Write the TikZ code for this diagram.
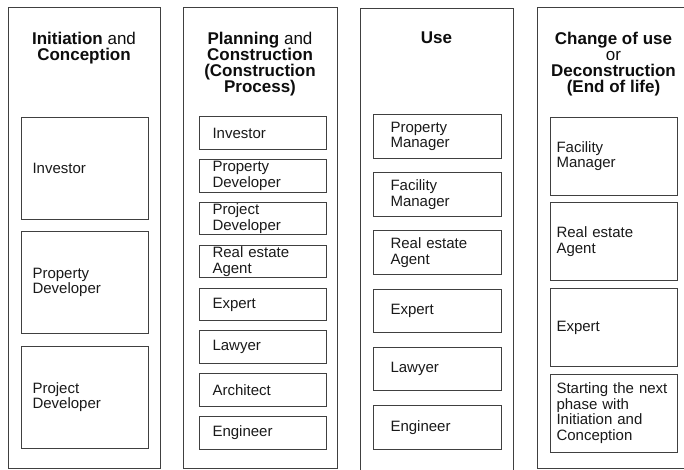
\documentclass[tikz,border=0pt]{standalone}
\usepackage{fontspec}
\setmainfont{Liberation Sans}

\begin{document}
\begin{tikzpicture}[x=1pt,y=-1pt,
		column/.style={draw=black!75,line width=1pt},
		heading/.style={anchor=north,align=center,inner sep=0pt,text=black!95,font=\fontsize{17pt}{16pt}\selectfont},
		role/.style={draw=black!75,line width=0.9pt,align=left,inner sep=0pt,minimum width=127pt,text width=#1,text=black!90,font=\fontsize{15pt}{15.5pt}\selectfont}]
		\useasboundingbox (0,0) rectangle (684,470);
		\clip (0,0) rectangle (684,470);

		\draw[column] (8,8) rectangle (160,468);
		\draw[column] (183,8) rectangle (337,468);
		\draw[column] (360,9) rectangle (513,490);
		\draw[column] (537,8) rectangle (700,468);

		\node[heading] (init) at (84,31.5) {\textbf{Initiation} and\\\textbf{Conception}};
		\node[heading] (plan) at (260,31.5) {\textbf{Planning} and\\\textbf{Construction}\\\textbf{(Construction}\\\textbf{Process)}};
		\node[heading] (use) at (436.5,31.5) {\textbf{Use}};
		\node[heading] (change) at (613.5,31.5) {\textbf{Change of use}\\or\\\textbf{Deconstruction}\\\textbf{(End of life)}};

		\node[role=104pt, minimum height=102pt] (ic1) at (84.5,168) {Investor};
		\node[role=104pt, minimum height=102pt] (ic2) at (84.5,282.5) {Property\\Developer};
		\node[role=104pt, minimum height=102pt] (ic3) at (84.5,397) {Project\\Developer};

		\node[role=100pt, minimum height=32.5pt] (pc1) at (262.5,133) {Investor};
		\node[role=100pt, minimum height=32.5pt] (pc2) at (262.5,176) {Property\\Developer};
		\node[role=100pt, minimum height=32.5pt] (pc3) at (262.5,218.5) {Project\\Developer};
		\node[role=100pt, minimum height=32.5pt] (pc4) at (262.5,261.5) {Real estate\\Agent};
		\node[role=100pt, minimum height=32.5pt] (pc5) at (262.5,304.5) {Expert};
		\node[role=100pt, minimum height=32.5pt] (pc6) at (262.5,347) {Lawyer};
		\node[role=100pt, minimum height=32.5pt] (pc7) at (262.5,390) {Architect};
		\node[role=100pt, minimum height=32.5pt] (pc8) at (262.5,433) {Engineer};

		\node[role=93pt, minimum width=128pt, minimum height=43.5pt] (us1) at (437,136.5) {Property\\Manager};
		\node[role=93pt, minimum width=128pt, minimum height=43.5pt] (us2) at (437,194.5) {Facility\\Manager};
		\node[role=93pt, minimum width=128pt, minimum height=43.5pt] (us3) at (437,252.5) {Real estate\\Agent};
		\node[role=93pt, minimum width=128pt, minimum height=43.5pt] (us4) at (437,311) {Expert};
		\node[role=93pt, minimum width=128pt, minimum height=43.5pt] (us5) at (437,369) {Lawyer};
		\node[role=93pt, minimum width=128pt, minimum height=43.5pt] (us6) at (437,427.5) {Engineer};

		\node[role=114pt, minimum height=78pt] (cu1) at (613.5,156) {Facility\\Manager};
		\node[role=114pt, minimum height=78pt] (cu2) at (613.5,241.5) {Real estate\\Agent};
		\node[role=114pt, minimum height=78pt] (cu3) at (613.5,327.5) {Expert};
		\node[role=114pt, minimum height=78pt] (cu4) at (613.5,413) {Starting the next\\phase with\\Initiation and\\Conception};
	\end{tikzpicture}
\end{document}
